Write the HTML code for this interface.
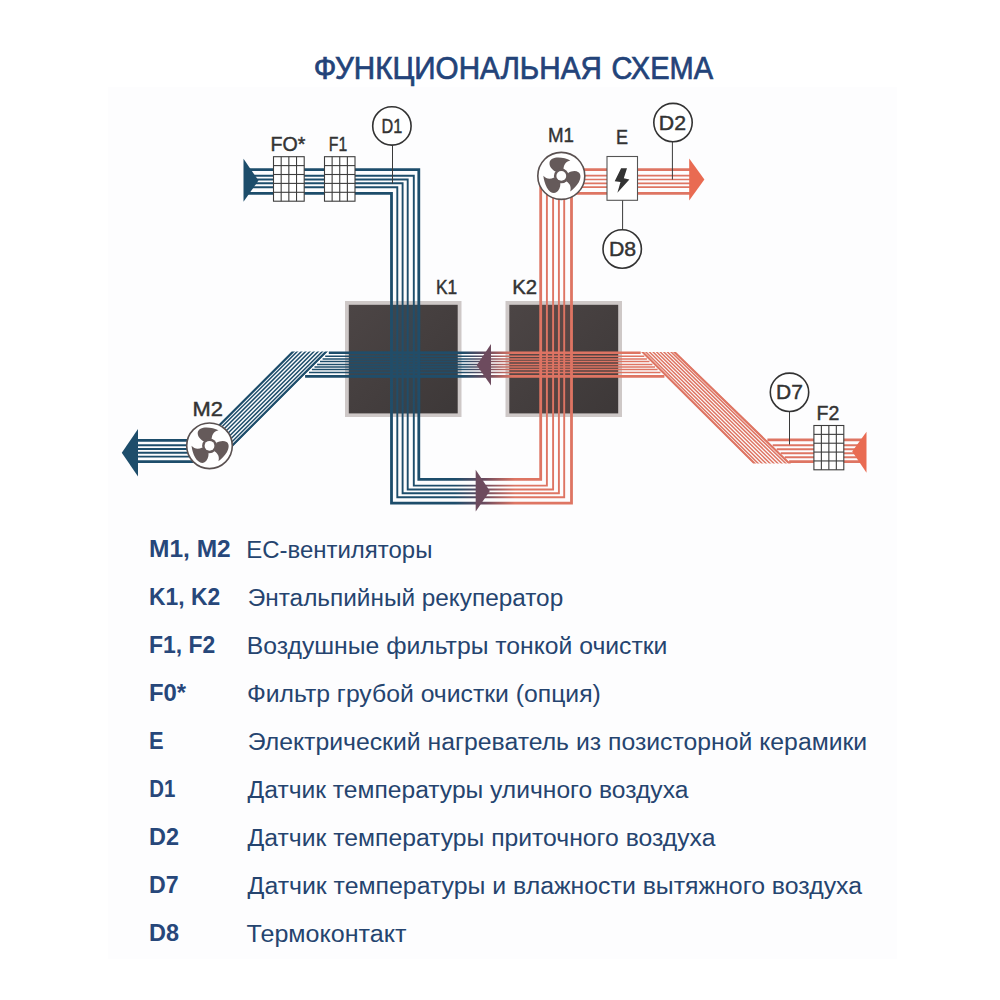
<!DOCTYPE html><html><head><meta charset="utf-8"><style>html,body{margin:0;padding:0;background:#fff;width:1000px;height:1000px;overflow:hidden}svg{display:block}text{font-family:"Liberation Sans",sans-serif}</style></head><body>
<svg width="1000" height="1000" viewBox="0 0 1000 1000">
<defs>
<linearGradient id="gb" gradientUnits="userSpaceOnUse" x1="455" y1="0" x2="515" y2="0"><stop offset="0" stop-color="#1d4d6b"/><stop offset="0.5" stop-color="#6d4b5e"/><stop offset="1" stop-color="#de7563"/></linearGradient>
<linearGradient id="gm" gradientUnits="userSpaceOnUse" x1="462" y1="0" x2="512" y2="0"><stop offset="0" stop-color="#1d4d6b"/><stop offset="0.5" stop-color="#6d4b5e"/><stop offset="1" stop-color="#de7563"/></linearGradient>
<linearGradient id="kb" x1="0" y1="0" x2="1" y2="1"><stop offset="0" stop-color="#4c4545"/><stop offset="1" stop-color="#3d3838"/></linearGradient>
<clipPath id="cR"><polygon points="641,352 676,352 791,463.5 753,463.5"/></clipPath>
<clipPath id="cL"><polygon points="291.5,351.5 328,351.5 232,447.5 195.5,447.5"/></clipPath>
</defs>
<rect x="108" y="87" width="789" height="872" fill="#fdfdfe"/>
<text x="313.8" y="79" font-size="31.5" fill="#234379" stroke="#234379" stroke-width="0.7" textLength="288" lengthAdjust="spacingAndGlyphs">ФУНКЦИОНАЛЬНАЯ</text>
<text x="611.5" y="79" font-size="31.5" fill="#234379" stroke="#234379" stroke-width="0.7" textLength="101.5" lengthAdjust="spacingAndGlyphs">СХЕМА</text>
<rect x="345" y="301" width="116.5" height="116" fill="#cec8c7"/>
<rect x="348.8" y="304.8" width="108.9" height="108.6" fill="url(#kb)"/>
<rect x="505.5" y="301" width="116.5" height="116" fill="#cec8c7"/>
<rect x="509.3" y="304.8" width="108.9" height="108.6" fill="url(#kb)"/>
<path d="M244,169.6 H418.8 V479.4 H540.7 V176" fill="none" stroke="url(#gb)" stroke-width="2.8" stroke-linejoin="miter"/>
<path d="M244,175.7 H413.8 V485.6 H546.9 V176" fill="none" stroke="url(#gb)" stroke-width="1.9" stroke-linejoin="miter"/>
<path d="M244,179.5 H407.7 V489.5 H553.1 V176" fill="none" stroke="url(#gb)" stroke-width="1.9" stroke-linejoin="miter"/>
<path d="M244,183.3 H402.6 V493.3 H558.9 V176" fill="none" stroke="url(#gb)" stroke-width="1.9" stroke-linejoin="miter"/>
<path d="M244,187.2 H397.3 V497.2 H564.2 V176" fill="none" stroke="url(#gb)" stroke-width="1.9" stroke-linejoin="miter"/>
<path d="M244,193.3 H391.5 V503.2 H571.5 V176" fill="none" stroke="url(#gb)" stroke-width="2.8" stroke-linejoin="miter"/>
<line x1="561" y1="169.6" x2="690" y2="169.6" stroke="#de7563" stroke-width="2.8"/>
<line x1="561" y1="175.7" x2="690" y2="175.7" stroke="#de7563" stroke-width="1.7"/>
<line x1="561" y1="179.5" x2="690" y2="179.5" stroke="#de7563" stroke-width="1.7"/>
<line x1="561" y1="183.3" x2="690" y2="183.3" stroke="#de7563" stroke-width="1.7"/>
<line x1="561" y1="187.2" x2="690" y2="187.2" stroke="#de7563" stroke-width="1.7"/>
<line x1="561" y1="193.3" x2="690" y2="193.3" stroke="#de7563" stroke-width="2.8"/>
<line x1="767.4" y1="439.9" x2="862" y2="439.9" stroke="#de7563" stroke-width="2.8"/>
<line x1="772.7" y1="445.2" x2="862" y2="445.2" stroke="#de7563" stroke-width="1.9"/>
<line x1="776.7" y1="449.2" x2="862" y2="449.2" stroke="#de7563" stroke-width="1.9"/>
<line x1="780.7" y1="453.2" x2="862" y2="453.2" stroke="#de7563" stroke-width="1.9"/>
<line x1="784.7" y1="457.2" x2="862" y2="457.2" stroke="#de7563" stroke-width="1.9"/>
<line x1="789.1" y1="461.6" x2="862" y2="461.6" stroke="#de7563" stroke-width="2.8"/>
<g clip-path="url(#cR)"><line x1="632.26" y1="342" x2="764.34" y2="473.5" stroke="#de7563" stroke-width="2.6"/><line x1="635.83" y1="342" x2="768.31" y2="473.5" stroke="#de7563" stroke-width="1.5"/><line x1="639.40" y1="342" x2="772.27" y2="473.5" stroke="#de7563" stroke-width="1.5"/><line x1="642.97" y1="342" x2="776.23" y2="473.5" stroke="#de7563" stroke-width="1.5"/><line x1="646.54" y1="342" x2="780.20" y2="473.5" stroke="#de7563" stroke-width="1.5"/><line x1="650.11" y1="342" x2="784.16" y2="473.5" stroke="#de7563" stroke-width="1.5"/><line x1="653.68" y1="342" x2="788.12" y2="473.5" stroke="#de7563" stroke-width="1.5"/><line x1="657.25" y1="342" x2="792.09" y2="473.5" stroke="#de7563" stroke-width="1.5"/><line x1="660.82" y1="342" x2="796.05" y2="473.5" stroke="#de7563" stroke-width="1.5"/><line x1="664.39" y1="342" x2="800.01" y2="473.5" stroke="#de7563" stroke-width="2.6"/></g>
<line x1="328.8" y1="352.7" x2="640.7" y2="352.7" stroke="url(#gm)" stroke-width="2.6"/>
<line x1="325.2" y1="356.3" x2="644.3" y2="356.3" stroke="url(#gm)" stroke-width="1.5"/>
<line x1="322.6" y1="358.9" x2="646.9" y2="358.9" stroke="url(#gm)" stroke-width="1.5"/>
<line x1="320.0" y1="361.5" x2="649.5" y2="361.5" stroke="url(#gm)" stroke-width="1.5"/>
<line x1="317.1" y1="364.4" x2="652.4" y2="364.4" stroke="url(#gm)" stroke-width="1.5"/>
<line x1="314.5" y1="367.0" x2="655.0" y2="367.0" stroke="url(#gm)" stroke-width="1.5"/>
<line x1="311.9" y1="369.6" x2="657.6" y2="369.6" stroke="url(#gm)" stroke-width="1.5"/>
<line x1="309.0" y1="372.5" x2="660.5" y2="372.5" stroke="url(#gm)" stroke-width="1.5"/>
<line x1="305.1" y1="376.4" x2="664.4" y2="376.4" stroke="url(#gm)" stroke-width="2.6"/>
<g clip-path="url(#cL)"><line x1="314.5" y1="330" x2="174.5" y2="470" stroke="#1d4d6b" stroke-width="2.6"/><line x1="318.6875" y1="330" x2="178.6875" y2="470" stroke="#1d4d6b" stroke-width="1.5"/><line x1="322.875" y1="330" x2="182.875" y2="470" stroke="#1d4d6b" stroke-width="1.5"/><line x1="327.0625" y1="330" x2="187.0625" y2="470" stroke="#1d4d6b" stroke-width="1.5"/><line x1="331.25" y1="330" x2="191.25" y2="470" stroke="#1d4d6b" stroke-width="1.5"/><line x1="335.4375" y1="330" x2="195.4375" y2="470" stroke="#1d4d6b" stroke-width="1.5"/><line x1="339.625" y1="330" x2="199.625" y2="470" stroke="#1d4d6b" stroke-width="1.5"/><line x1="343.8125" y1="330" x2="203.8125" y2="470" stroke="#1d4d6b" stroke-width="1.5"/><line x1="348.0" y1="330" x2="208.0" y2="470" stroke="#1d4d6b" stroke-width="2.6"/></g>
<line x1="132" y1="440.4" x2="210" y2="440.4" stroke="#1d4d6b" stroke-width="2.8"/>
<line x1="132" y1="445.2" x2="210" y2="445.2" stroke="#1d4d6b" stroke-width="1.9"/>
<line x1="132" y1="449.0" x2="210" y2="449.0" stroke="#1d4d6b" stroke-width="1.9"/>
<line x1="132" y1="452.8" x2="210" y2="452.8" stroke="#1d4d6b" stroke-width="1.9"/>
<line x1="132" y1="456.6" x2="210" y2="456.6" stroke="#1d4d6b" stroke-width="1.9"/>
<line x1="132" y1="461.6" x2="210" y2="461.6" stroke="#1d4d6b" stroke-width="2.8"/>
<rect x="349" y="351.3" width="108.5" height="26.5" fill="#24506a" opacity="0.38"/>
<rect x="390" y="305" width="30.2" height="108.5" fill="#24506a" opacity="0.38"/>
<rect x="509.5" y="351.3" width="108.5" height="26.5" fill="#de7563" opacity="0.12"/>
<rect x="539.3" y="305" width="33.6" height="108.5" fill="#de7563" opacity="0.12"/>
<polygon points="243.5,158.8 258.5,180.5 243.5,201.8" fill="#1d4d6b"/>
<polygon points="689.2,158.6 704.4,179.6 689.2,200.6" fill="#e96b52"/>
<polygon points="475.7,469.8 489.8,491 475.7,511.5" fill="#6d4b5e"/>
<polygon points="491,344 476.8,365.2 491,385.4" fill="#6d4b5e"/>
<polygon points="138,429 121.8,452.8 138,476.6" fill="#1d4d6b"/>
<polygon points="866.5,431.7 852.2,451.4 866.5,472.8" fill="#e96b52"/>
<rect x="273.5" y="156.7" width="30.69999999999999" height="44.5" fill="#fff" stroke="#3d3d3d" stroke-width="1.1"/><line x1="281.175" y1="156.7" x2="281.175" y2="201.2" stroke="#3d3d3d" stroke-width="1.1"/><line x1="288.85" y1="156.7" x2="288.85" y2="201.2" stroke="#3d3d3d" stroke-width="1.1"/><line x1="296.525" y1="156.7" x2="296.525" y2="201.2" stroke="#3d3d3d" stroke-width="1.1"/><line x1="273.5" y1="165.6" x2="304.2" y2="165.6" stroke="#3d3d3d" stroke-width="1.1"/><line x1="273.5" y1="174.5" x2="304.2" y2="174.5" stroke="#3d3d3d" stroke-width="1.1"/><line x1="273.5" y1="183.39999999999998" x2="304.2" y2="183.39999999999998" stroke="#3d3d3d" stroke-width="1.1"/><line x1="273.5" y1="192.29999999999998" x2="304.2" y2="192.29999999999998" stroke="#3d3d3d" stroke-width="1.1"/>
<rect x="324.5" y="156.7" width="30.5" height="44.5" fill="#fff" stroke="#3d3d3d" stroke-width="1.1"/><line x1="332.125" y1="156.7" x2="332.125" y2="201.2" stroke="#3d3d3d" stroke-width="1.1"/><line x1="339.75" y1="156.7" x2="339.75" y2="201.2" stroke="#3d3d3d" stroke-width="1.1"/><line x1="347.375" y1="156.7" x2="347.375" y2="201.2" stroke="#3d3d3d" stroke-width="1.1"/><line x1="324.5" y1="165.6" x2="355" y2="165.6" stroke="#3d3d3d" stroke-width="1.1"/><line x1="324.5" y1="174.5" x2="355" y2="174.5" stroke="#3d3d3d" stroke-width="1.1"/><line x1="324.5" y1="183.39999999999998" x2="355" y2="183.39999999999998" stroke="#3d3d3d" stroke-width="1.1"/><line x1="324.5" y1="192.29999999999998" x2="355" y2="192.29999999999998" stroke="#3d3d3d" stroke-width="1.1"/>
<rect x="813.9" y="425.5" width="29.899999999999977" height="44.30000000000001" fill="#fff" stroke="#3d3d3d" stroke-width="1.1"/><line x1="821.375" y1="425.5" x2="821.375" y2="469.8" stroke="#3d3d3d" stroke-width="1.1"/><line x1="828.8499999999999" y1="425.5" x2="828.8499999999999" y2="469.8" stroke="#3d3d3d" stroke-width="1.1"/><line x1="836.3249999999999" y1="425.5" x2="836.3249999999999" y2="469.8" stroke="#3d3d3d" stroke-width="1.1"/><line x1="813.9" y1="434.36" x2="843.8" y2="434.36" stroke="#3d3d3d" stroke-width="1.1"/><line x1="813.9" y1="443.22" x2="843.8" y2="443.22" stroke="#3d3d3d" stroke-width="1.1"/><line x1="813.9" y1="452.08" x2="843.8" y2="452.08" stroke="#3d3d3d" stroke-width="1.1"/><line x1="813.9" y1="460.94" x2="843.8" y2="460.94" stroke="#3d3d3d" stroke-width="1.1"/>
<rect x="607" y="156.5" width="30.5" height="43.8" fill="#fff" stroke="#555" stroke-width="1.1"/>
<polygon points="621.1,168.2 627,168.2 623.8,178.3 629.4,179.4 617.4,192.8 620.5,182.1 614.7,181.3" fill="#333333"/>
<line x1="392.5" y1="145" x2="392.5" y2="183.5" stroke="#3a3a3a" stroke-width="1"/>
<line x1="672.4" y1="142" x2="672.4" y2="179.5" stroke="#3a3a3a" stroke-width="1"/>
<line x1="622.6" y1="200.5" x2="622.6" y2="230" stroke="#3a3a3a" stroke-width="1"/>
<line x1="789.5" y1="412" x2="789.5" y2="444.5" stroke="#3a3a3a" stroke-width="1"/>
<circle cx="391.9" cy="125.9" r="19.2" fill="#fff" stroke="#333333" stroke-width="1.6"/>
<circle cx="673" cy="122.6" r="19.2" fill="#fff" stroke="#333333" stroke-width="1.6"/>
<circle cx="622.2" cy="249" r="19.2" fill="#fff" stroke="#333333" stroke-width="1.6"/>
<circle cx="789.5" cy="392.3" r="19.2" fill="#fff" stroke="#333333" stroke-width="1.6"/>
<circle cx="561.3" cy="175.9" r="23.5" fill="#fff" stroke="#5a5151" stroke-width="1.6"/><g transform="translate(561.3,175.9)" fill="#655a5a"><path transform="rotate(0)" d="M-6,-4.5 C-9.5,-6.5 -12,-9.5 -11.8,-13 C-11.5,-16.5 -7.5,-18.3 -3,-18.3 C1,-18.3 6,-17 9,-15.5 C5,-14.5 2.5,-12 2.2,-7 Z"/><path transform="rotate(120)" d="M-6,-4.5 C-9.5,-6.5 -12,-9.5 -11.8,-13 C-11.5,-16.5 -7.5,-18.3 -3,-18.3 C1,-18.3 6,-17 9,-15.5 C5,-14.5 2.5,-12 2.2,-7 Z"/><path transform="rotate(240)" d="M-6,-4.5 C-9.5,-6.5 -12,-9.5 -11.8,-13 C-11.5,-16.5 -7.5,-18.3 -3,-18.3 C1,-18.3 6,-17 9,-15.5 C5,-14.5 2.5,-12 2.2,-7 Z"/><circle r="7.4"/></g><circle cx="561.3" cy="175.9" r="4.9" fill="#fff"/>
<circle cx="209.5" cy="445.8" r="22.8" fill="#fff" stroke="#5a5151" stroke-width="1.6"/><g transform="translate(209.5,445.8)" fill="#655a5a"><path transform="rotate(0)" d="M-6,-4.5 C-9.5,-6.5 -12,-9.5 -11.8,-13 C-11.5,-16.5 -7.5,-18.3 -3,-18.3 C1,-18.3 6,-17 9,-15.5 C5,-14.5 2.5,-12 2.2,-7 Z"/><path transform="rotate(120)" d="M-6,-4.5 C-9.5,-6.5 -12,-9.5 -11.8,-13 C-11.5,-16.5 -7.5,-18.3 -3,-18.3 C1,-18.3 6,-17 9,-15.5 C5,-14.5 2.5,-12 2.2,-7 Z"/><path transform="rotate(240)" d="M-6,-4.5 C-9.5,-6.5 -12,-9.5 -11.8,-13 C-11.5,-16.5 -7.5,-18.3 -3,-18.3 C1,-18.3 6,-17 9,-15.5 C5,-14.5 2.5,-12 2.2,-7 Z"/><circle r="7.4"/></g><circle cx="209.5" cy="445.8" r="4.9" fill="#fff"/>
<text x="270.6" y="150.5" font-size="20.5" fill="#333333" stroke="#333333" stroke-width="0.45" textLength="34.799999999999955" lengthAdjust="spacingAndGlyphs">FO*</text>
<text x="328.8" y="150.5" font-size="20.5" fill="#333333" stroke="#333333" stroke-width="0.45" textLength="18.400000000000034" lengthAdjust="spacingAndGlyphs">F1</text>
<text x="381.6" y="133.3" font-size="20.5" fill="#333333" stroke="#333333" stroke-width="0.45" textLength="20.799999999999955" lengthAdjust="spacingAndGlyphs">D1</text>
<text x="548.0" y="142.0" font-size="20.5" fill="#333333" stroke="#333333" stroke-width="0.45" textLength="26.0" lengthAdjust="spacingAndGlyphs">M1</text>
<text x="616.0" y="144.0" font-size="20.5" fill="#333333" stroke="#333333" stroke-width="0.45" textLength="12.0" lengthAdjust="spacingAndGlyphs">E</text>
<text x="658.8" y="130.4" font-size="20.5" fill="#333333" stroke="#333333" stroke-width="0.45" textLength="27.200000000000045" lengthAdjust="spacingAndGlyphs">D2</text>
<text x="609.0" y="256.2" font-size="20.5" fill="#333333" stroke="#333333" stroke-width="0.45" textLength="27.200000000000045" lengthAdjust="spacingAndGlyphs">D8</text>
<text x="436.0" y="293.8" font-size="20.5" fill="#333333" stroke="#333333" stroke-width="0.45" textLength="21.200000000000045" lengthAdjust="spacingAndGlyphs">K1</text>
<text x="512.2" y="293.8" font-size="20.5" fill="#333333" stroke="#333333" stroke-width="0.45" textLength="24.799999999999955" lengthAdjust="spacingAndGlyphs">K2</text>
<text x="192.6" y="415.8" font-size="20.5" fill="#333333" stroke="#333333" stroke-width="0.45" textLength="30.400000000000006" lengthAdjust="spacingAndGlyphs">M2</text>
<text x="776.0" y="399.3" font-size="20.5" fill="#333333" stroke="#333333" stroke-width="0.45" textLength="26.799999999999955" lengthAdjust="spacingAndGlyphs">D7</text>
<text x="816.6" y="420" font-size="20.5" fill="#333333" stroke="#333333" stroke-width="0.45" textLength="22.800000000000068" lengthAdjust="spacingAndGlyphs">F2</text>
<text x="149.00" y="556.90" font-size="23.5" font-weight="bold" fill="#27477a" textLength="81.70" lengthAdjust="spacingAndGlyphs">M1, M2</text>
<text x="246.20" y="557.8" font-size="23.5" fill="#25446f" textLength="186.20" lengthAdjust="spacingAndGlyphs">ЕС-вентиляторы</text>
<text x="149.00" y="604.90" font-size="23.5" font-weight="bold" fill="#27477a" textLength="71.10" lengthAdjust="spacingAndGlyphs">K1, K2</text>
<text x="247.80" y="605.8" font-size="23.5" fill="#25446f" textLength="315.40" lengthAdjust="spacingAndGlyphs">Энтальпийный рекуператор</text>
<text x="149.00" y="652.90" font-size="23.5" font-weight="bold" fill="#27477a" textLength="66.20" lengthAdjust="spacingAndGlyphs">F1, F2</text>
<text x="246.80" y="653.8" font-size="23.5" fill="#25446f" textLength="420.60" lengthAdjust="spacingAndGlyphs">Воздушные фильтры тонкой очистки</text>
<text x="149.00" y="700.90" font-size="23.5" font-weight="bold" fill="#27477a" textLength="37.10" lengthAdjust="spacingAndGlyphs">F0*</text>
<text x="246.90" y="701.8" font-size="23.5" fill="#25446f" textLength="353.90" lengthAdjust="spacingAndGlyphs">Фильтр грубой очистки (опция)</text>
<text x="149.00" y="748.90" font-size="23.5" font-weight="bold" fill="#27477a" textLength="14.60" lengthAdjust="spacingAndGlyphs">E</text>
<text x="247.80" y="749.8" font-size="23.5" fill="#25446f" textLength="619.40" lengthAdjust="spacingAndGlyphs">Электрический нагреватель из позисторной керамики</text>
<text x="149.30" y="796.90" font-size="23.5" font-weight="bold" fill="#27477a" textLength="26.10" lengthAdjust="spacingAndGlyphs">D1</text>
<text x="247.60" y="797.8" font-size="23.5" fill="#25446f" textLength="440.80" lengthAdjust="spacingAndGlyphs">Датчик температуры уличного воздуха</text>
<text x="149.00" y="844.90" font-size="23.5" font-weight="bold" fill="#27477a" textLength="30.00" lengthAdjust="spacingAndGlyphs">D2</text>
<text x="247.60" y="845.8" font-size="23.5" fill="#25446f" textLength="467.80" lengthAdjust="spacingAndGlyphs">Датчик температуры приточного воздуха</text>
<text x="149.00" y="892.90" font-size="23.5" font-weight="bold" fill="#27477a" textLength="29.60" lengthAdjust="spacingAndGlyphs">D7</text>
<text x="247.60" y="893.8" font-size="23.5" fill="#25446f" textLength="614.40" lengthAdjust="spacingAndGlyphs">Датчик температуры и влажности вытяжного воздуха</text>
<text x="149.00" y="940.90" font-size="23.5" font-weight="bold" fill="#27477a" textLength="30.00" lengthAdjust="spacingAndGlyphs">D8</text>
<text x="246.60" y="941.8" font-size="23.5" fill="#25446f" textLength="159.80" lengthAdjust="spacingAndGlyphs">Термоконтакт</text>
</svg></body></html>
